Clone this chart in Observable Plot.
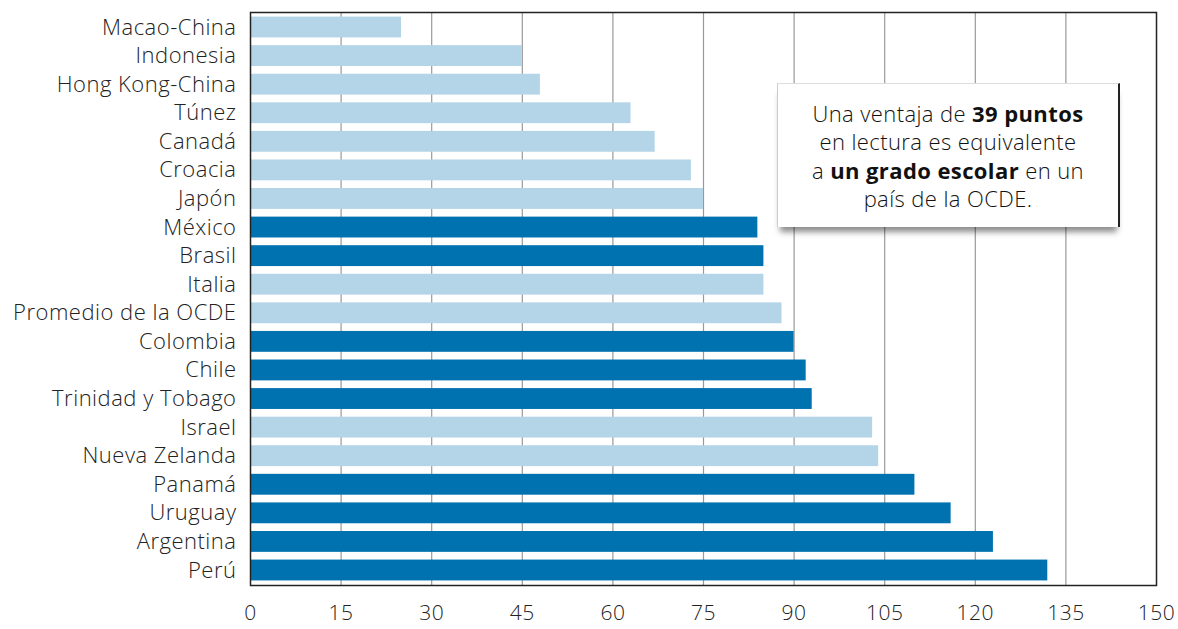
<!DOCTYPE html>
<html>
<head>
<meta charset="utf-8">
<script src="https://cdn.jsdelivr.net/npm/d3@7"></script>
<script src="https://cdn.jsdelivr.net/npm/@observablehq/plot@0.6"></script>
<style>
  html, body { margin: 0; padding: 0; background: #fff; }
  #wrap { position: relative; width: 1178px; height: 629px; font-family: "Open Sans", Lato, sans-serif; }
  #note {
    position: absolute; left: 777px; top: 83px; width: 343px; height: 144px;
    box-sizing: border-box; background: #fff;
    border-top: 1px solid #ddd; border-left: 1px solid #ccc; border-right: 2px solid #222;
    box-shadow: 0 8px 6px -3px rgba(0,0,0,0.45);
    display: flex; align-items: center; justify-content: center; text-align: center;
    font-size: 22px; line-height: 28.5px; color: #111; font-weight: 300; letter-spacing: 0.4px;
  }
  #note b { font-weight: 700; }
  svg text { letter-spacing: 0.5px; }
</style>
</head>
<body>
<div id="wrap"></div>
<script>
const countries = ["Macao-China","Indonesia","Hong Kong-China","Túnez","Canadá","Croacia","Japón","México","Brasil","Italia","Promedio de la OCDE","Colombia","Chile","Trinidad y Tobago","Israel","Nueva Zelanda","Panamá","Uruguay","Argentina","Perú"];
const values = [25,45,48,63,67,73,75,84,85,85,88,90,92,93,103,104,110,116,123,132];
const latam = [false,false,false,false,false,false,false,true,true,false,false,true,true,true,false,false,true,true,true,true];
const xTicks = [0,15,30,45,60,75,90,105,120,135,150];
const noteLines = ["Una ventaja de <b>39 puntos</b>", "en lectura es equivalente", "a <b>un grado escolar</b> en un", "país de la OCDE."];

const data = countries.map((c, i) => ({country: c, value: values[i], latam: latam[i]}));

const chart = Plot.plot({
  width: 1178,
  height: 629,
  marginLeft: 250,
  marginRight: 22,
  marginTop: 12,
  marginBottom: 44,
  style: {fontFamily: "'Open Sans', Lato, sans-serif", fontSize: "22px", fontWeight: 300, color: "#222", background: "#fff"},
  x: {domain: [0, 150], ticks: xTicks, label: null, tickSize: 0, tickPadding: 20},
  y: {domain: countries, label: null, tickSize: 0, tickPadding: 14, paddingInner: 0.27, paddingOuter: 0.16, round: false},
  marks: [
    Plot.gridX(xTicks.filter(t => t > 0 && t < 150), {stroke: "#999", strokeOpacity: 1, strokeWidth: 1.2}),
    Plot.barX(data, {x: "value", y: "country", fill: d => d.latam ? "#0072b0" : "#b4d5e8"}),
    Plot.frame({stroke: "#222", strokeWidth: 1.5}),
    Plot.axisX({ticks: xTicks, tickSize: 0, tickPadding: 20, fontSize: 21, label: null}),
    Plot.axisY({tickSize: 0, tickPadding: 14, fontSize: 22, label: null})
  ]
});
const wrap = document.getElementById("wrap");
wrap.appendChild(chart);
const note = document.createElement("div");
note.id = "note";
note.innerHTML = "<div>" + noteLines.join("<br>") + "</div>";
wrap.appendChild(note);
</script>
</body>
</html>
